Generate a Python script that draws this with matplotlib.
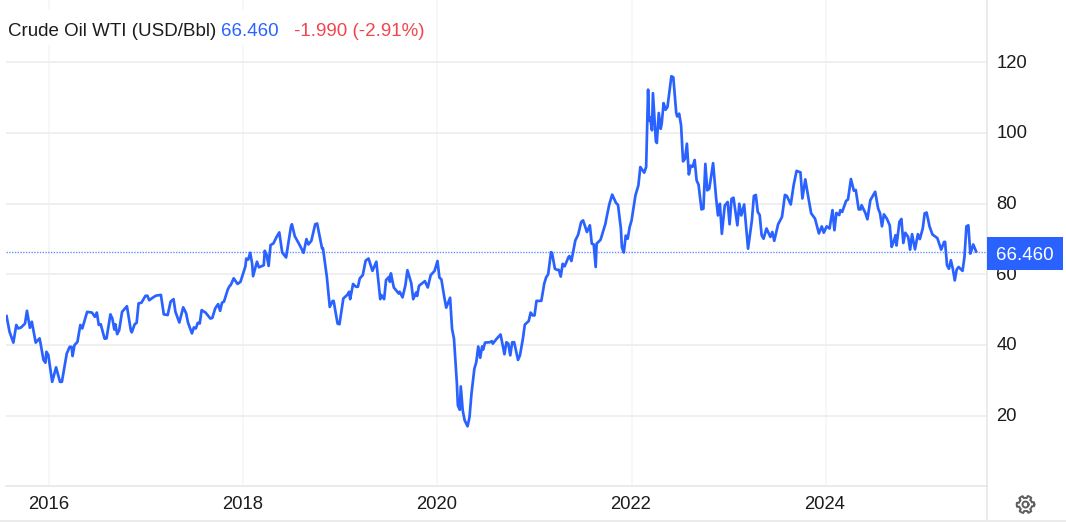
import numpy as np
import matplotlib
matplotlib.use("Agg")
import matplotlib.pyplot as plt
from matplotlib.lines import Line2D
from matplotlib.patches import Rectangle
from matplotlib.transforms import ScaledTranslation

years = [
2015.56,2015.59,2015.63,2015.66,2015.68,2015.71,2015.75,2015.77,2015.80,2015.82,2015.86,2015.90,2015.91,2015.94,2015.96,2015.97,2015.99,
2016.03,2016.07,2016.11,2016.13,2016.18,2016.21,2016.23,2016.24,2016.26,2016.29,2016.32,2016.34,2016.39,2016.44,2016.47,2016.49,2016.51,2016.53,2016.57,2016.59,2016.63,2016.65,2016.67,2016.68,2016.70,2016.72,2016.75,2016.80,2016.84,2016.85,2016.88,2016.90,2016.92,2016.95,2016.99,
2017.01,2017.03,2017.07,2017.10,2017.15,2017.18,2017.22,2017.25,2017.28,2017.30,2017.34,2017.38,2017.41,2017.43,2017.47,2017.49,2017.51,2017.53,2017.55,2017.57,2017.61,2017.66,2017.68,2017.71,2017.74,2017.76,2017.78,2017.80,2017.84,2017.86,2017.87,2017.90,2017.94,2017.97,
2018.02,2018.03,2018.05,2018.07,2018.09,2018.10,2018.14,2018.16,2018.21,2018.22,2018.24,2018.26,2018.28,2018.31,2018.34,2018.37,2018.40,2018.44,2018.49,2018.50,2018.53,2018.58,2018.62,2018.65,2018.67,2018.70,2018.74,2018.76,2018.81,2018.82,2018.86,2018.89,2018.92,2018.93,2018.97,2018.99,
2019.03,2019.07,2019.09,2019.10,2019.13,2019.16,2019.18,2019.20,2019.23,2019.26,2019.29,2019.33,2019.37,2019.41,2019.42,2019.45,2019.47,2019.50,2019.51,2019.52,2019.55,2019.60,2019.61,2019.64,2019.67,2019.69,2019.73,2019.75,2019.78,2019.79,2019.81,2019.87,2019.90,2019.93,2019.97,
2020.00,2020.02,2020.04,2020.07,2020.09,2020.13,2020.15,2020.17,2020.20,2020.21,2020.23,2020.24,2020.26,2020.28,2020.31,2020.33,2020.35,2020.38,2020.40,2020.42,2020.44,2020.46,2020.47,2020.49,2020.54,2020.56,2020.57,2020.61,2020.65,2020.69,2020.71,2020.73,2020.75,2020.77,2020.79,2020.83,2020.85,2020.88,2020.90,2020.94,2020.96,2020.98,
2021.00,2021.02,2021.07,2021.10,2021.12,2021.14,2021.17,2021.18,2021.21,2021.23,2021.25,2021.27,2021.29,2021.31,2021.35,2021.36,2021.38,2021.42,2021.45,2021.48,2021.50,2021.54,2021.57,2021.59,2021.61,2021.63,2021.64,2021.68,2021.73,2021.74,2021.77,2021.80,2021.84,2021.86,2021.89,2021.90,2021.92,2021.94,2021.96,2021.98,
2022.00,2022.04,2022.07,2022.09,2022.13,2022.15,2022.17,2022.18,2022.19,2022.21,2022.22,2022.25,2022.26,2022.28,2022.30,2022.31,2022.33,2022.35,2022.37,2022.41,2022.43,2022.46,2022.47,2022.49,2022.51,2022.53,2022.55,2022.57,2022.59,2022.61,2022.63,2022.65,2022.67,2022.69,2022.72,2022.74,2022.76,2022.78,2022.80,2022.84,2022.87,2022.89,2022.91,2022.93,2022.96,2022.99,
2023.01,2023.03,2023.05,2023.09,2023.11,2023.13,2023.16,2023.20,2023.24,2023.26,2023.28,2023.30,2023.32,2023.34,2023.36,2023.39,2023.43,2023.45,2023.47,2023.51,2023.55,2023.58,2023.60,2023.64,2023.67,2023.70,2023.74,2023.76,2023.79,2023.82,2023.85,2023.89,2023.93,2023.96,2023.98,
2024.01,2024.04,2024.07,2024.09,2024.11,2024.14,2024.15,2024.17,2024.21,2024.23,2024.26,2024.29,2024.31,2024.34,2024.36,2024.37,2024.41,2024.43,2024.46,2024.51,2024.54,2024.56,2024.58,2024.60,2024.63,2024.66,2024.68,2024.70,2024.72,2024.73,2024.76,2024.78,2024.80,2024.82,2024.85,2024.87,2024.89,2024.92,2024.95,2024.97,
2025.00,2025.02,2025.04,2025.07,2025.10,2025.15,2025.16,2025.19,2025.22,2025.23,2025.25,2025.27,2025.29,2025.31,2025.33,2025.35,2025.37,2025.41,2025.43,2025.45,2025.47,2025.49,2025.50,2025.52,2025.55,
]
prices = [
48.2,43.8,40.7,45.7,44.7,45.0,46.1,49.7,44.9,46.6,40.7,41.9,40.5,35.8,35.0,38.1,37.2,
29.6,33.7,29.6,29.6,37.6,39.5,39.5,36.9,40.0,40.9,45.7,44.7,49.4,49.2,48.0,49.2,45.7,45.9,41.8,41.9,48.7,47.5,44.4,45.9,43.1,44.2,49.4,51.0,44.2,43.6,45.9,46.3,51.8,52.0,53.9,
54.0,52.7,53.5,54.0,54.2,48.7,48.5,52.3,53.0,49.4,46.4,50.7,49.0,46.3,43.3,45.0,44.7,46.3,46.1,49.9,49.2,47.5,47.7,50.4,51.6,49.7,52.0,52.3,55.8,56.8,57.0,58.9,57.3,57.9,
62.2,64.5,64.2,66.1,63.1,59.5,63.6,62.0,62.6,66.7,65.5,62.4,68.3,68.8,70.5,71.9,66.2,64.8,73.5,74.2,70.8,68.3,66.1,70.0,68.5,69.5,74.2,74.4,67.4,67.4,59.3,50.8,52.5,52.5,46.1,45.9,
53.2,54.2,55.1,53.0,57.3,56.5,56.5,58.9,59.8,63.9,64.5,61.0,63.6,53.0,54.2,53.0,58.4,59.3,57.9,60.3,56.3,54.6,55.1,53.5,57.0,61.2,57.5,53.0,54.9,53.9,56.8,58.1,56.3,59.8,61.0,
63.8,59.1,58.6,53.6,50.6,53.4,44.6,41.8,29.1,22.9,21.7,28.3,21.5,18.7,17.0,19.6,26.2,33.3,35.2,39.6,36.4,39.6,38.7,40.7,40.8,41.1,40.4,41.8,43.0,37.4,40.8,40.4,37.1,40.8,40.8,35.8,37.1,41.8,45.8,46.8,49.2,48.4,
48.4,52.5,52.5,57.4,59.2,60.0,66.3,66.1,61.6,61.3,61.3,59.4,63.0,62.3,64.9,65.2,63.8,69.6,71.3,74.8,75.3,72.0,73.9,68.7,68.5,62.1,68.7,69.8,74.3,75.8,79.8,82.6,80.2,79.7,72.9,67.7,66.2,71.0,70.1,73.4,
75.3,82.4,85.2,90.4,88.8,90.4,112.3,103.6,104.5,100.8,111.3,97.7,97.2,105.7,101.2,102.6,108.5,106.6,107.4,116.1,115.8,105.7,104.7,105.5,102.2,92.0,92.7,97.0,88.3,90.8,90.5,92.4,86.6,85.4,78.4,78.6,91.3,83.8,84.2,91.5,81.9,76.7,80.0,71.5,79.5,80.5,
74.2,81.4,81.7,73.9,80.0,76.7,79.8,67.3,75.4,82.2,82.5,77.7,76.8,71.1,70.1,73.0,70.6,72.0,69.5,74.2,76.3,82.5,82.2,79.8,85.3,89.3,88.9,81.5,86.9,82.0,77.3,75.8,71.6,73.6,71.8,
73.6,73.0,78.2,72.5,77.4,76.8,78.2,77.7,80.8,81.2,87.0,83.7,83.9,78.4,78.4,79.6,77.3,75.6,81.0,83.4,78.7,77.3,73.6,77.0,75.8,73.9,67.8,69.2,71.1,68.2,74.9,75.7,68.9,71.8,70.6,67.0,71.4,67.1,71.4,70.0,
73.0,77.3,77.5,73.6,71.3,70.3,69.5,67.0,69.2,69.2,62.6,61.6,64.0,61.6,58.3,61.4,62.1,61.0,64.9,73.6,73.9,65.9,66.6,68.5,66.5,
]
x_ticks = [2016, 2018, 2020, 2022, 2024]
y_ticks = [20, 40, 60, 80, 100, 120]
last_price = 66.46
title_name = "Crude Oil WTI (USD/Bbl)"
title_last = "66.460"
title_change = "-1.990 (-2.91%)"

BLUE = "#2962FF"
RED = "#F4444E"
TXT = "#1c1c1c"
W, H = 1066, 522

plt.rcParams["font.family"] = ["Liberation Sans", "DejaVu Sans"]
fig = plt.figure(figsize=(W / 100, H / 100), dpi=100, facecolor="white")

def fx(p): return p / W
def fy(p): return 1 - p / H

ax = fig.add_axes([fx(6), fy(486.4), (986.5 - 6) / W, 486.4 / H])
ax.set_xlim(2015.554, 2025.657)
ax.set_ylim(0, 486.4 / 3.533)
ax.yaxis.tick_right()
ax.set_xticks(x_ticks, [str(v) for v in x_ticks])
ax.set_yticks(y_ticks, [str(v) for v in y_ticks])
ax.tick_params(axis="both", length=0, labelsize=13.3, labelcolor=TXT)
ax.tick_params(axis="x", pad=7)
ax.tick_params(axis="y", pad=7)
shift_up = ScaledTranslation(0, 1.2 / 100, fig.dpi_scale_trans)
for lab in ax.get_yticklabels():
    lab.set_transform(lab.get_transform() + shift_up)
shift_left = ScaledTranslation(-0.8 / 100, 0, fig.dpi_scale_trans)
for lab in ax.get_xticklabels():
    lab.set_transform(lab.get_transform() + shift_left)
ax.grid(axis="x", color="#F2F6F9", lw=1.1, zorder=0)
ax.grid(axis="y", color="#EBEBEB", lw=1.1, zorder=0)
ax.set_axisbelow(True)
for s in ("top", "left"):
    ax.spines[s].set_visible(False)
ax.spines["bottom"].set_color("#E6E6E6")
ax.spines["bottom"].set_linewidth(1.1)
ax.spines["right"].set_color("#E6E6E6")
ax.spines["right"].set_linewidth(1.1)

ax.axhline(last_price, color=BLUE, lw=1.0, ls=(0, (1, 1)), alpha=0.7, zorder=2)
ax.plot(years, prices, color=BLUE, lw=1.95, solid_joinstyle="round", zorder=3)

# outer chrome
fig.add_artist(Line2D([fx(986.5), fx(986.5)], [fy(486), fy(520)], color="#E6E6E6", lw=1.1))
fig.add_artist(Line2D([0, 1], [fy(520.5), fy(520.5)], color="#E6E6E6", lw=1.1))

# title block
fig.add_artist(Rectangle((fx(6), fy(45)), 424 / W, 35 / H, transform=fig.transFigure,
                         facecolor="white", edgecolor="none", zorder=1))
title_y = fy(30)
fig.text(fx(8), title_y, title_name, color=TXT, fontsize=13.5, va="center_baseline")
fig.text(fx(221.5), title_y, title_last, color=BLUE, fontsize=13.5, va="center_baseline")
fig.text(fx(294.5), title_y, title_change, color=RED, fontsize=13.5, va="center_baseline")

# last-price badge
fig.add_artist(Rectangle((fx(987), fy(270)), 76 / W, 33 / H, transform=fig.transFigure,
                         facecolor=BLUE, edgecolor="none", zorder=1))
fig.text(fx(996), fy(253.5), title_last, color="white", fontsize=13.5, va="center_baseline")

# settings gear icon
cx, cy = 1025.5, 504.5
a = np.linspace(0, 2 * np.pi, 97)
r = 8.8 - 2.2 * (np.cos(a * 6) < 0)
gx, gy = cx + r * np.cos(a), H - cy + r * np.sin(a)
fig.add_artist(Line2D(gx / W, gy / H, color="#5f5f5f", lw=1.4))
b = np.linspace(0, 2 * np.pi, 40)
fig.add_artist(Line2D((cx + 3 * np.cos(b)) / W, (H - cy + 3 * np.sin(b)) / H, color="#5f5f5f", lw=1.4))

fig.savefig("out.png", dpi=100)
